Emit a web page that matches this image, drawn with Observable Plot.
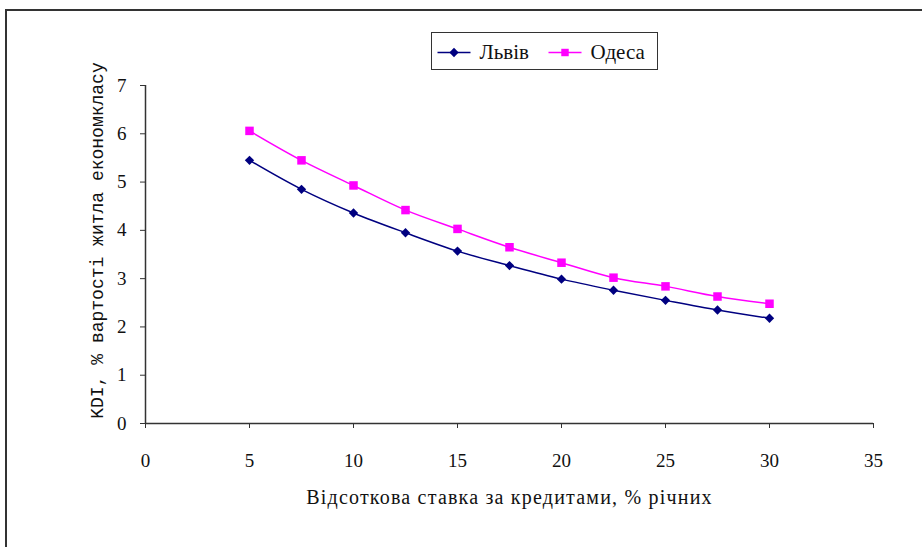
<!DOCTYPE html>
<html>
<head>
<meta charset="utf-8">
<script src="https://cdn.jsdelivr.net/npm/d3@7"></script>
<script src="https://cdn.jsdelivr.net/npm/@observablehq/plot@0.6"></script>
<style>
  html, body { margin: 0; padding: 0; background: #fff; }
  #wrap { position: relative; width: 922px; height: 547px; overflow: hidden; }
  #frame { position: absolute; left: 5px; top: 9px; width: 940px; height: 560px;
           border-left: 2px solid #333; border-top: 2px solid #333; }
  #chart { position: absolute; left: 0; top: 0; }
  #legend { position: absolute; left: 431px; top: 32px; width: 225px; height: 36px;
            border: 1.5px solid #333; background: #fff; }
</style>
</head>
<body>
<div id="wrap">
  <div id="frame"></div>
  <div id="chart"></div>
  <div id="legend"></div>
</div>
<script>
const rates = [5, 7.5, 10, 12.5, 15, 17.5, 20, 22.5, 25, 27.5, 30];
const lviv  = [5.45, 4.85, 4.36, 3.95, 3.57, 3.27, 2.99, 2.76, 2.55, 2.35, 2.18];
const odesa = [6.06, 5.45, 4.93, 4.42, 4.03, 3.65, 3.33, 3.02, 2.84, 2.63, 2.48];
const seriesNames = ["Львів", "Одеса"];
const seriesColors = ["#000080", "#FF00FF"];
const xTicks = [0, 5, 10, 15, 20, 25, 30, 35];
const yTicks = [0, 1, 2, 3, 4, 5, 6, 7];
const xLabel = "Відсоткова ставка за кредитами, % річних";
const yLabel = "KDI, % вартості житла економкласу";

const rows = [];
rates.forEach((r, i) => {
  rows.push({rate: r, value: lviv[i], city: seriesNames[0]});
  rows.push({rate: r, value: odesa[i], city: seriesNames[1]});
});
const lvivRows = rows.filter(d => d.city === seriesNames[0]);
const odesaRows = rows.filter(d => d.city === seriesNames[1]);

const serif = "'Liberation Serif', 'Times New Roman', serif";
const mono = "'Liberation Mono', 'Courier New', monospace";

const chart = Plot.plot({
  width: 922,
  height: 547,
  marginLeft: 145,
  marginRight: 49,
  marginTop: 85,
  marginBottom: 124,
  style: {fontFamily: serif, background: "transparent", overflow: "visible"},
  x: {domain: [0, 35]},
  y: {domain: [0, 7]},
  marks: [
    Plot.axisX({ticks: xTicks, tickFormat: d3.format("d"), tickSize: 5, tickPadding: 25, fontSize: 19, fontFamily: serif, label: null, stroke: "#333", color: "#111"}),
    Plot.axisY({ticks: yTicks, tickFormat: d3.format("d"), tickSize: 5, tickPadding: 14, fontSize: 19, fontFamily: serif, label: null, stroke: "#333", color: "#111"}),
    Plot.ruleX([0], {stroke: "#333", strokeWidth: 1.5}),
    Plot.ruleY([0], {stroke: "#333", strokeWidth: 1.5}),
    Plot.line(lvivRows, {x: "rate", y: "value", stroke: seriesColors[0], strokeWidth: 1.5, curve: "catmull-rom"}),
    Plot.line(odesaRows, {x: "rate", y: "value", stroke: seriesColors[1], strokeWidth: 1.5, curve: "catmull-rom"}),
    Plot.dot(lvivRows, {x: "rate", y: "value", symbol: "diamond2", r: 4.2, fill: seriesColors[0], stroke: "none"}),
    Plot.dot(odesaRows, {x: "rate", y: "value", symbol: "square", r: 4.8, fill: seriesColors[1], stroke: "none"}),
    Plot.text([xLabel], {frameAnchor: "bottom", dy: 80, fontSize: 20, fontFamily: serif, fill: "#111", className: "xlabel"}),
    Plot.text([yLabel], {frameAnchor: "left", textAnchor: "middle", dx: -48, dy: -14, rotate: -90, fontSize: 18, fontFamily: mono, fill: "#111"})
  ]
});
d3.select(chart).selectAll(".xlabel text").style("letter-spacing", "1.2px");
document.getElementById("chart").appendChild(chart);

// Legend drawn with Plot too
const legendItems = seriesNames.map((n, i) => ({name: n, color: seriesColors[i], symbol: i === 0 ? "diamond2" : "square"}));
const legendPos = [{x0: 5, x1: 38, tx: 47}, {x0: 116, x1: 149, tx: 158}];
const legendRows = legendItems.map((d, i) => ({...d, ...legendPos[i], mid: (legendPos[i].x0 + legendPos[i].x1) / 2}));
const legend = Plot.plot({
  width: 225, height: 36, margin: 0,
  x: {domain: [0, 225], range: [0, 225], axis: null},
  y: {domain: [0, 36], range: [0, 36], axis: null},
  style: {background: "transparent", fontFamily: serif},
  marks: [
    Plot.link(legendRows, {x1: "x0", x2: "x1", y1: 19, y2: 19, stroke: "color", strokeWidth: 1.5}),
    Plot.dot(legendRows, {x: "mid", y: 19, symbol: "symbol", r: 4.2, fill: "color", stroke: "none"}),
    Plot.text(legendRows, {x: "tx", y: 19, text: "name", textAnchor: "start", fontSize: 21, fontFamily: serif, fill: "#111"})
  ]
});
document.getElementById("legend").appendChild(legend);
</script>
</body>
</html>
